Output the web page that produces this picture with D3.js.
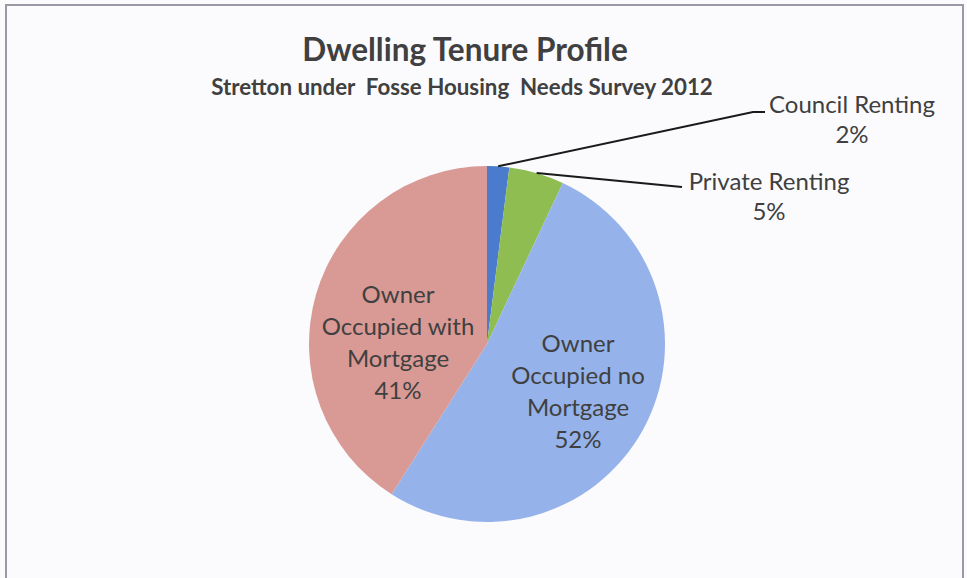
<!DOCTYPE html>
<html>
<head>
<meta charset="utf-8">
<script src="https://cdn.jsdelivr.net/npm/d3@7"></script>
<style>
  html, body { margin: 0; padding: 0; background: #fbfbfe; }
  svg { display: block; font-family: Lato, "Open Sans", sans-serif; }
</style>
</head>
<body>
<svg id="chart"></svg>
<script>
// Data
var categories = ["Council Renting", "Private Renting", "Owner Occupied no Mortgage", "Owner Occupied with Mortgage"];
var values = [2, 5, 52, 41];
var labelLines = [
    ["Council Renting", "2%"],
    ["Private Renting", "5%"],
    ["Owner", "Occupied no", "Mortgage", "52%"],
    ["Owner", "Occupied with", "Mortgage", "41%"]
];
var colors = ["#4a7bcc", "#8fbd52", "#95b3ea", "#d99a96"];

var width = 967, height = 578;
var cx = 487, cy = 344, radius = 178;

var svg = d3.select("#chart")
    .attr("width", width)
    .attr("height", height);

// chart frame
svg.append("rect")
    .attr("x", 6).attr("y", 5)
    .attr("width", 957).attr("height", 590)
    .attr("fill", "#fbfbfe")
    .attr("stroke", "#9a9aa6")
    .attr("stroke-width", 2);

// Titles
svg.append("text")
    .attr("x", 465).attr("y", 61)
    .attr("text-anchor", "middle")
    .style("font-size", "31.5px")
    .style("font-weight", "bold")
    .style("fill", "#404040")
    .text("Dwelling Tenure Profile");

svg.append("text")
    .attr("x", 462).attr("y", 95)
    .attr("text-anchor", "middle")
    .attr("xml:space", "preserve")
    .style("white-space", "pre")
    .style("font-size", "22.3px")
    .style("font-weight", "bold")
    .style("fill", "#404040")
    .text("Stretton under  Fosse Housing  Needs Survey 2012");

var data = categories.map(function(c, i) { return { name: c, value: values[i], lines: labelLines[i] }; });

var pie = d3.pie()
    .sort(null)
    .value(function(d) { return d.value; });

var arc = d3.arc().innerRadius(0).outerRadius(radius);

var g = svg.append("g")
    .attr("transform", "translate(" + cx + "," + cy + ")");

var arcs = pie(data);

g.selectAll(".slice")
    .data(arcs)
    .enter().append("path")
    .attr("class", "slice")
    .attr("d", arc)
    .style("fill", function(d, i) { return colors[i]; });

// Leader lines for the small slices (label anchors in page coords)
var outside = [
    { elbow: [753, 112], end: [765, 112], tx: 852, ty: 113 },
    { elbow: [682, 187], end: [682, 187], tx: 769, ty: 190 }
];

outside.forEach(function(o, i) {
    var a = (arcs[i].startAngle + arcs[i].endAngle) / 2;
    var px = cx + radius * Math.sin(a), py = cy - radius * Math.cos(a);
    svg.append("polyline")
        .attr("points", [[px, py], o.elbow, o.end].map(function(p) { return p.join(","); }).join(" "))
        .attr("fill", "none")
        .attr("stroke", "#1a1a1a")
        .attr("stroke-width", 2);
    var t = svg.append("text")
        .attr("text-anchor", "middle")
        .style("font-size", "24px")
        .style("fill", "#404040");
    data[i].lines.forEach(function(l, j) {
        t.append("tspan").attr("x", o.tx).attr("y", o.ty + j * 29.5).text(l);
    });
});

// Labels inside the large slices
var inside = [null, null, { x: 578, y: 352 }, { x: 398, y: 303 }];
[2, 3].forEach(function(i) {
    var t = svg.append("text")
        .attr("text-anchor", "middle")
        .style("font-size", "24px")
        .style("fill", "#404040");
    data[i].lines.forEach(function(l, j) {
        t.append("tspan").attr("x", inside[i].x).attr("y", inside[i].y + j * 32).text(l);
    });
});
</script>
</body>
</html>
